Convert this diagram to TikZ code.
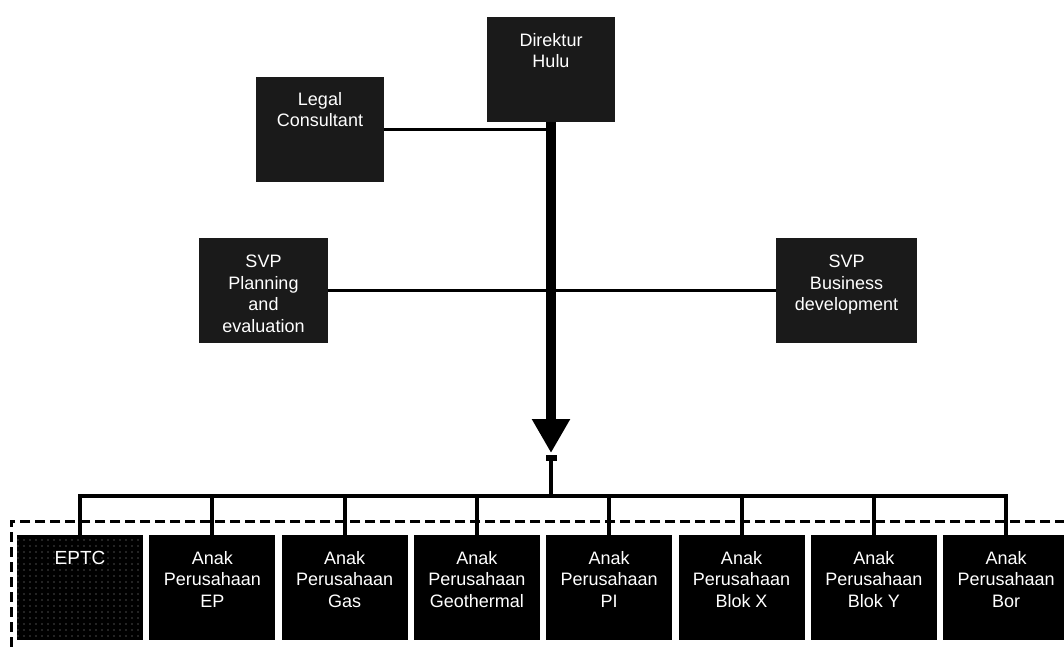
\documentclass[tikz,border=0pt]{standalone}
\usepackage{fontspec}
\setmainfont{Liberation Sans}
\usetikzlibrary{arrows.meta,patterns.meta}
\definecolor{boxgrey}{HTML}{1A1A1A}
\begin{document}
\begin{tikzpicture}[x=1pt,y=-1pt,
  orgbox/.style={fill=boxgrey, minimum width=128pt, minimum height=105pt, inner sep=0pt, outer sep=0pt},
  unitbox/.style={fill=black, minimum width=126pt, minimum height=105pt, inner sep=0pt, outer sep=0pt},
  caption/.style={text=white, font=\fontsize{18}{21.5}\selectfont, align=center, anchor=north, inner sep=0pt},
  link/.style={line width=3.2pt},
  busline/.style={line width=4pt},
  trunk/.style={line width=10pt, -{Triangle[width=36pt,length=34pt]}},
  frame/.style={dash pattern=on 10pt off 5pt, line width=3pt}
]
\useasboundingbox (0,0) rectangle (1064,648);
\clip (0,0) rectangle (1064,648);

% dashed frame round the subsidiaries
\draw[frame] (1080,521) -- (11,521) -- (11,670);

% top management
\node[orgbox] (dir) at (551,69.5) {};
\node[caption] (dirtext) at ([yshift=-16pt]dir.north) {Direktur\\Hulu};
\node[orgbox] (legal) at (320,129.5) {};
\node[caption] (legaltext) at ([yshift=-15pt]legal.north) {Legal\\Consultant};
\node[orgbox, minimum width=129pt] (plan) at (263.5,290.5) {};
\node[caption] (plantext) at ([yshift=-17pt]plan.north) {SVP\\Planning\\and\\evaluation};
\node[orgbox, minimum width=141pt] (bizdev) at (846.5,290.5) {};
\node[caption] (bizdevtext) at ([yshift=-17pt]bizdev.north) {SVP\\Business\\development};

% subsidiaries
\node[unitbox, pattern={Dots[radius=0.6pt,distance=6pt]}, pattern color=gray!80,
      preaction={fill=black}] (eptc) at (80,587.5) {};
\node[caption, font=\fontsize{19}{21.5}\selectfont] (eptctext) at ([yshift=-16pt]eptc.north) {EPTC};
\foreach \i/\n/\t in {1/ep/EP, 2/gas/Gas, 3/geo/Geothermal, 4/pi/PI,
                      5/blokx/Blok X, 6/bloky/Blok Y, 7/bor/Bor} {
  \node[unitbox] (\n) at ({80+132.3*\i},587.5) {};
  \node[caption] (\n text) at ([yshift=-16pt]\n.north) {Anak\\Perusahaan\\\t};
}

% staff links
\draw[link] (legal.east) -- (legal.east -| dir.south);
\draw[link] (plan.east) -- (bizdev.west);

% command line down to the subsidiaries
\coordinate (tip) at (551,453);
\coordinate (bus) at (551,496);
\draw[trunk] (dir.south) -- (tip);
\node[fill=black, minimum width=11pt, minimum height=6pt, inner sep=0pt] (cap) at (551,458) {};
\draw[link] (cap.south) -- (bus);
\draw[busline] (eptc.north) |- (bus) -| (bor.north);
\foreach \n in {ep,gas,geo,pi,blokx,bloky}
  \draw[busline] (\n.north) -- (\n.north |- bus);
\end{tikzpicture}
\end{document}
